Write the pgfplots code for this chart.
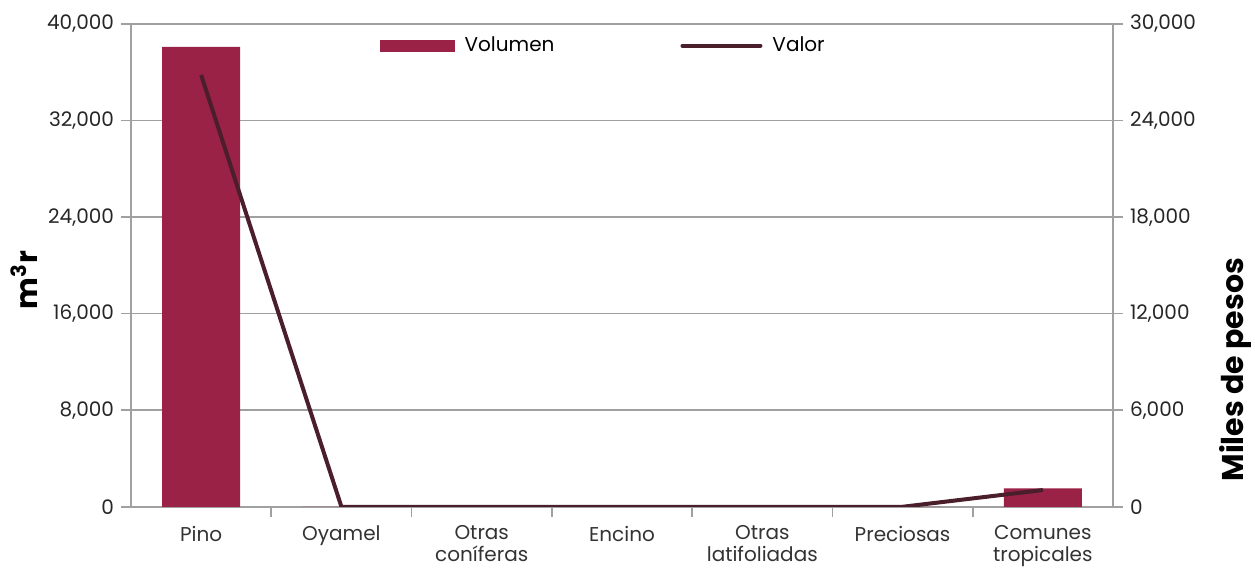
\documentclass[border=0pt]{standalone}
\usepackage{pgfplots}
\pgfplotsset{compat=1.18}
\usepackage{fontspec}
\setmainfont{Poppins}
\definecolor{barcol}{HTML}{9B2247}
\definecolor{linecol}{HTML}{4A1E2B}
\definecolor{gridcol}{HTML}{A0A0A0}
\begin{document}
\begin{tikzpicture}
\pgfplotsset{
  common/.style={
    scale only axis, width=491pt, height=241.4pt,
    xmin=-0.5, xmax=6.5,
    font=\fontsize{10}{11}\selectfont,
    /pgf/number format/assume math mode=true,
    /pgf/number format/1000 sep={,},
    scaled y ticks=false,
    axis line style={gridcol, line width=0.8pt},
    tick style={gridcol, line width=0.8pt},
  }
}
\begin{axis}[common, name=ax1,
  axis y line*=left, axis x line*=bottom,
  ymin=0, ymax=40000, ytick={0,8000,16000,24000,32000,40000},
  ymajorgrids, grid style={gridcol, line width=0.8pt},
  xtick={0,...,6},
  xticklabels={Pino,Oyamel,{Otras\\coníferas},Encino,{Otras\\latifoliadas},Preciosas,{Comunes\\tropicales}},
  xticklabel style={align=center, text=black!80, yshift=-1pt},
  major x tick style={draw=none},
  minor xtick={0.5,1.5,2.5,3.5,4.5,5.5},
  minor x tick style={gridcol},
  tick align=outside, major tick length=5pt, minor tick length=5pt,
  yticklabel style={text=black!85},
  ylabel={\fontsize{15}{16}\selectfont\bfseries m\textsuperscript{3}r},
  ylabel style={at={(ticklabel cs:0.47)}, yshift=-2pt},
  ybar, bar width=39pt,
]
\addplot[fill=barcol, draw=none] coordinates {(0,38100) (1,0) (2,0) (3,0) (4,0) (5,0) (6,1520)};
\end{axis}
\begin{axis}[common,
  axis y line*=right, axis x line=none,
  ymin=0, ymax=30000, ytick={0,6000,12000,18000,24000,30000},
  tick align=outside, major tick length=5pt,
  yticklabel style={text=black!85},
  ylabel={\fontsize{15}{16}\selectfont\bfseries Miles de pesos},
  ylabel style={at={(ticklabel cs:0.284)}, yshift=-5pt},
  legend style={at={(0.485,0.955)}, anchor=center, draw=none, fill=none,
    legend columns=2, font=\fontsize{10}{11}\selectfont,
    nodes={inner xsep=5pt},
    /tikz/every even column/.append style={column sep=58pt}},
  legend cell align=left,
]
\addlegendimage{legend image code/.code={\fill[barcol] (0pt,-2.8pt) rectangle (37pt,2.8pt);}}
\addlegendentry{Volumen}
\addplot[linecol, line width=2pt, legend image code/.code={\draw[linecol, line width=2pt, line cap=round] (0pt,0pt) -- (39pt,0pt);}]
  coordinates {(0,26830) (1,0) (2,0) (3,0) (4,0) (5,0) (6,1040)};
\addlegendentry{Valor}
\end{axis}
\path (ax1.south west) ++(-65.5pt,-30.15pt) coordinate (bbsw);
\path (ax1.north east) ++(71pt,12pt) coordinate (bbne);
\pgfresetboundingbox
\path[use as bounding box] (bbsw) rectangle (bbne);
\end{tikzpicture}
\end{document}
